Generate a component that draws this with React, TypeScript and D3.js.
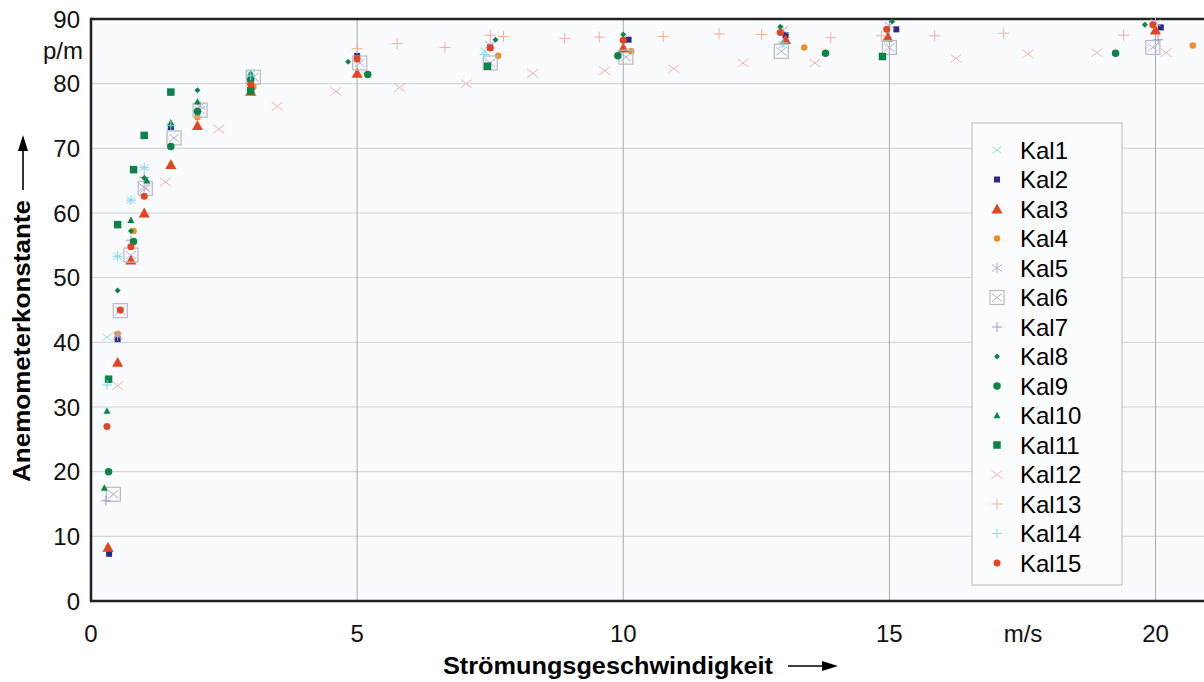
import React from "react";
import * as d3 from "d3";

type P = [number, number];

const kal1: P[] = [[0.3, 40.8], [0.5, 53.3], [0.75, 62], [1.0, 67], [1.5, 73.4], [3.0, 81.5], [7.4, 85], [13.0, 86]];
const kal2: P[] = [[0.34, 7.3], [0.5, 40.5], [1.5, 73.3], [5.0, 84.3], [7.5, 85.6], [10.1, 86.8], [13.05, 87.5], [15.13, 88.4], [20.1, 88.7]];
const kal3: P[] = [[0.32, 8.3], [0.5, 36.9], [0.75, 52.7], [1.0, 60], [1.5, 67.5], [2.0, 73.5], [3.0, 78.8], [5.0, 81.6], [10.0, 85.5], [13.05, 86.8], [14.97, 87.2], [20.0, 88.3]];
const kal4: P[] = [[0.5, 41.3], [0.8, 57.2], [2.0, 74.8], [3.05, 79.5], [7.65, 84.3], [10.15, 85], [13.4, 85.6], [20.7, 85.9]];
const kal5: P[] = [[0.5, 41], [1.0, 64], [2.05, 76.5], [7.5, 86], [13.0, 88.3], [15.0, 89.0], [20.0, 89.4]];
const kal6: P[] = [[0.42, 16.5], [0.55, 44.9], [0.75, 53.5], [1.02, 63.8], [1.56, 71.6], [2.05, 75.9], [3.05, 81], [5.05, 83.2], [7.5, 83.2], [10.05, 84.1], [12.97, 85], [15.0, 85.6], [19.95, 85.6]];
const kal7: P[] = [[0.28, 15.5], [0.75, 55.8], [1.0, 65.5], [20.05, 86.8]];
const kal8: P[] = [[0.5, 48], [0.75, 57.2], [1.0, 65.4], [2.0, 79], [3.0, 80.5], [4.83, 83.4], [7.6, 86.8], [10.0, 87.6], [12.95, 88.8], [15.05, 89.6], [19.8, 89.1]];
const kal9: P[] = [[0.33, 20], [0.8, 55.6], [1.5, 70.3], [2.0, 75.7], [3.0, 80.6], [5.2, 81.4], [9.9, 84.3], [13.8, 84.7], [19.25, 84.7]];
const kal10: P[] = [[0.25, 17.5], [0.3, 29.4], [0.75, 58.9], [1.05, 65], [1.5, 74], [2.0, 77.2], [3.0, 81.6]];
const kal11: P[] = [[0.33, 34.3], [0.5, 58.2], [0.8, 66.7], [1.0, 72], [1.5, 78.7], [3.0, 78.9], [7.45, 82.7], [14.87, 84.2]];
const kal12: P[] = [[0.5, 33.3], [1.4, 64.8], [2.4, 73], [3.5, 76.5], [4.6, 78.8], [5.8, 79.4], [7.05, 80], [8.3, 81.6], [9.65, 82], [10.95, 82.3], [12.25, 83.2], [13.6, 83.2], [16.25, 83.9], [17.6, 84.6], [18.9, 84.8], [20.2, 84.8]];
const kal13: P[] = [[5.0, 85.4], [5.75, 86.2], [6.65, 85.6], [7.5, 87.5], [7.75, 87.3], [8.9, 87], [9.55, 87.2], [10.75, 87.3], [11.8, 87.7], [12.6, 87.6], [13.9, 87.1], [14.85, 87.4], [15.85, 87.4], [17.15, 87.8], [19.4, 87.5]];
const kal14: P[] = [[0.3, 33.4], [0.5, 53.3], [0.75, 62], [1.0, 67], [1.5, 73.5], [3.0, 81.3], [7.4, 84.5], [13.0, 86.3]];
const kal15: P[] = [[0.3, 27], [0.55, 45], [0.75, 54.8], [1.0, 62.6], [3.0, 79.9], [5.0, 83.8], [7.5, 85.5], [10.0, 86.7], [12.95, 87.9], [14.95, 88.4], [19.95, 89.1]];

const seriesNames = ["Kal1", "Kal2", "Kal3", "Kal4", "Kal5", "Kal6", "Kal7", "Kal8", "Kal9", "Kal10", "Kal11", "Kal12", "Kal13", "Kal14", "Kal15"];
const seriesData = [kal1, kal2, kal3, kal4, kal5, kal6, kal7, kal8, kal9, kal10, kal11, kal12, kal13, kal14, kal15];

const yTicks = [0, 10, 20, 30, 40, 50, 60, 70, 80, 90];
const xTicks = [0, 5, 10, 15, 20];
const xGrid = [5, 10, 15, 20];
const yUnit = "p/m";
const xUnit = "m/s";
const xTitle = "Strömungsgeschwindigkeit";
const yTitle = "Anemometerkonstante";

type Style = { shape: string; color: string; size: number };
const styles: Style[] = [
  { shape: "x", color: "#8fdcea", size: 9 },
  { shape: "square", color: "#2a2a80", size: 6 },
  { shape: "triangle", color: "#e2451f", size: 11 },
  { shape: "circle", color: "#e8912c", size: 6.5 },
  { shape: "asterisk", color: "#bca8da", size: 10 },
  { shape: "box", color: "#b9b9c0", size: 14 },
  { shape: "plus", color: "#a497d6", size: 10 },
  { shape: "diamond", color: "#0b8446", size: 6 },
  { shape: "circle", color: "#0b8446", size: 7.5 },
  { shape: "triangle", color: "#0b8446", size: 7 },
  { shape: "square", color: "#0b8446", size: 7.5 },
  { shape: "x", color: "#f5b6a6", size: 11 },
  { shape: "plus", color: "#f5ad9e", size: 11 },
  { shape: "plus", color: "#7fd8ec", size: 10 },
  { shape: "circle", color: "#e2451f", size: 7 },
];

function Marker({ cx, cy, st }: { cx: number; cy: number; st: Style }) {
  const h = st.size / 2;
  const c = st.color;
  switch (st.shape) {
    case "x":
      return (
        <g stroke={c} strokeWidth={1}>
          <line x1={cx - h} y1={cy - h * 0.75} x2={cx + h} y2={cy + h * 0.75} />
          <line x1={cx - h} y1={cy + h * 0.75} x2={cx + h} y2={cy - h * 0.75} />
        </g>
      );
    case "plus":
      return (
        <g stroke={c} strokeWidth={1}>
          <line x1={cx - h} y1={cy} x2={cx + h} y2={cy} />
          <line x1={cx} y1={cy - h} x2={cx} y2={cy + h} />
        </g>
      );
    case "asterisk":
      return (
        <g stroke={c} strokeWidth={1}>
          <line x1={cx - h} y1={cy - h * 0.7} x2={cx + h} y2={cy + h * 0.7} />
          <line x1={cx - h} y1={cy + h * 0.7} x2={cx + h} y2={cy - h * 0.7} />
          <line x1={cx} y1={cy - h} x2={cx} y2={cy + h} />
        </g>
      );
    case "square":
      return <rect x={cx - h} y={cy - h} width={st.size} height={st.size} fill={c} />;
    case "circle":
      return <circle cx={cx} cy={cy} r={h} fill={c} />;
    case "triangle":
      return <path d={`M${cx},${cy - h}L${cx + h},${cy + h * 0.8}L${cx - h},${cy + h * 0.8}Z`} fill={c} />;
    case "diamond":
      return <path d={`M${cx},${cy - h}L${cx + h},${cy}L${cx},${cy + h}L${cx - h},${cy}Z`} fill={c} />;
    case "box":
      return (
        <g>
          <rect x={cx - h} y={cy - h} width={st.size} height={st.size} fill="none" stroke={c} strokeWidth={1.2} />
          <line x1={cx - h + 2} y1={cy - h + 3} x2={cx + h - 2} y2={cy + h - 3} stroke="#b4acd8" strokeWidth={1} />
          <line x1={cx - h + 2} y1={cy + h - 3} x2={cx + h - 2} y2={cy - h + 3} stroke="#b4acd8" strokeWidth={1} />
        </g>
      );
    default:
      return null;
  }
}

export default function App() {
  const W = 1204;
  const H = 682;
  const left = 91;
  const top = 19;
  const bottom = 601;
  const x = d3.scaleLinear().domain([0, 20]).range([left, 1155.5]);
  const y = d3.scaleLinear().domain([0, 90]).range([bottom, top]);
  const font = "'Liberation Sans', Arial, Helvetica, sans-serif";

  return (
    <svg width={W} height={H} style={{ position: "absolute", left: 0, top: 0, display: "block" }} fontFamily={font}>
      <rect x={0} y={0} width={W} height={H} fill="#ffffff" />
      <rect x={left} y={top} width={W - left} height={bottom - top} fill="#f9fbfe" />
      {yTicks.filter((t) => t > 0 && t < 90).map((t) => (
        <line key={"gy" + t} x1={left} x2={W} y1={y(t)} y2={y(t)} stroke="#cfcfd2" strokeWidth={1} />
      ))}
      {xGrid.map((t) => (
        <line key={"gx" + t} x1={x(t)} x2={x(t)} y1={top} y2={bottom} stroke="#a9a9ae" strokeWidth={1} />
      ))}
      {/* frame */}
      <line x1={left} x2={W} y1={top} y2={top} stroke="#222" strokeWidth={2.5} />
      <line x1={left} x2={W} y1={bottom} y2={bottom} stroke="#222" strokeWidth={2.5} />
      <line x1={left} x2={left} y1={top - 1.25} y2={bottom + 1.25} stroke="#222" strokeWidth={2.5} />

      {/* data */}
      <g>
        {seriesData.map((data, si) =>
          data.map((p, i) => <Marker key={si + "-" + i} cx={x(p[0])} cy={y(p[1])} st={styles[si]} />)
        )}
      </g>

      {/* y tick labels */}
      {yTicks.map((t) => (
        <text key={"ty" + t} x={80} y={y(t)} dy="0.36em" textAnchor="end" fontSize={24} fill="#111">
          {t}
        </text>
      ))}
      <text x={83} y={y(85)} dy="0.3em" textAnchor="end" fontSize={24} fill="#111">{yUnit}</text>

      {/* x tick labels */}
      {xTicks.map((t) => (
        <text key={"tx" + t} x={x(t)} y={642} textAnchor="middle" fontSize={24} fill="#111">
          {t}
        </text>
      ))}
      <text x={1023} y={642} textAnchor="middle" fontSize={24} fill="#111">{xUnit}</text>

      {/* x axis title */}
      <text x={443} y={674} fontSize={23} fontWeight="bold" fill="#000" textLength={330} lengthAdjust="spacingAndGlyphs">{xTitle}</text>
      <line x1={788} x2={826} y1={666} y2={666} stroke="#000" strokeWidth={1.6} />
      <path d="M838,666L822,661L822,671Z" fill="#000" />

      {/* y axis title */}
      <text transform="translate(30,482) rotate(-90)" fontSize={23} fontWeight="bold" fill="#000" textLength={282} lengthAdjust="spacingAndGlyphs">{yTitle}</text>
      <line x1={23} x2={23} y1={190} y2={148} stroke="#000" strokeWidth={1.6} />
      <path d="M23,135L18,151L28,151Z" fill="#000" />

      {/* legend */}
      <rect x={972} y={123} width={150} height={462} fill="#fbfcfe" stroke="#b8b8bc" strokeWidth={1} />
      {seriesNames.map((n, i) => {
        const ly = 150 + i * 29.5;
        return (
          <g key={n}>
            <Marker cx={997} cy={ly} st={styles[i]} />
            <text x={1020} y={ly} dy="0.36em" fontSize={24} fill="#000">{n}</text>
          </g>
        );
      })}
    </svg>
  );
}
